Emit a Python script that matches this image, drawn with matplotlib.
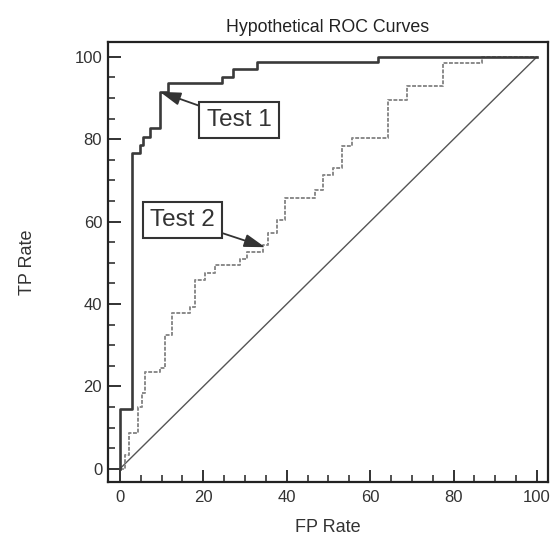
import matplotlib
matplotlib.use("Agg")
import matplotlib.pyplot as plt
from matplotlib.ticker import MultipleLocator

# Data
test1_fpr = [0, 0, 2.8, 4.8, 5.5, 7.2, 9.6, 11.5, 24.5, 27.0, 32.8, 62.0, 100]
test1_tpr = [0, 14.6, 76.7, 78.6, 80.6, 82.8, 91.5, 93.7, 95.0, 97.0, 98.8, 100, 100]

test2_fpr = [0, 1.2, 2.2, 4.3, 5.2, 6.0, 9.6, 10.8, 12.4, 16.8, 18.0, 20.4, 22.8,
             28.8, 30.4, 34.3, 35.5, 37.6, 39.6, 46.8, 48.7, 51.0, 53.2, 55.6,
             64.3, 68.8, 77.5, 86.8, 100]
test2_tpr = [0, 3.4, 8.7, 15.0, 18.4, 23.5, 24.5, 32.4, 37.8, 39.3, 45.8, 47.5, 49.5,
             51.0, 52.7, 54.4, 57.3, 60.4, 65.7, 67.6, 71.2, 73.0, 78.4, 80.4,
             89.4, 93.0, 98.6, 100, 100]

chance = [0, 100]

title = "Hypothetical ROC Curves"
xlabel = "FP Rate"
ylabel = "TP Rate"
ticks = [0, 20, 40, 60, 80, 100]
labels = ["Test 1", "Test 2"]
arrow_points = [(9.6, 91.5), (34.8, 53.8)]
label_points = [(20.8, 84.7), (7.2, 60.4)]

plt.rcParams["font.family"] = ["Liberation Sans", "DejaVu Sans"]

fig = plt.figure(figsize=(5.5, 5.37), dpi=100)
ax = fig.add_axes([0.196, 0.1024, 0.8, 0.8194])

ax.plot(chance, chance, color="#555555", lw=1.0)
ax.plot(test2_fpr, test2_tpr, drawstyle="steps-post", color="#8a8a8a", lw=1.4,
        linestyle=(0, (2.0, 0.8)))
ax.plot(test1_fpr, test1_tpr, drawstyle="steps-post", color="#3a3a3a", lw=1.9)

ax.set_xlim(-2.9, 102.6)
ax.set_ylim(-3.2, 103.6)
ax.set_xticks(ticks)
ax.set_yticks(ticks)
ax.xaxis.set_minor_locator(MultipleLocator(5))
ax.yaxis.set_minor_locator(MultipleLocator(5))
ax.tick_params(which="major", direction="in", length=9, width=1.3, labelsize=12,
               top=False, right=False, pad=6, colors="#222222", labelcolor="#333333")
ax.tick_params(which="minor", direction="in", length=5, width=1.1,
               top=False, right=False, colors="#222222")
ax.tick_params(axis="y", which="major", pad=4)
for s in ax.spines.values():
    s.set_linewidth(1.6)
    s.set_color("#222222")

ax.set_title(title, fontsize=12.8, color="#222222", pad=7)
ax.set_xlabel(xlabel, fontsize=13, labelpad=10, color="#333333")
ax.set_ylabel(ylabel, fontsize=13, labelpad=28, color="#333333")

for lab, pt, lp in zip(labels, arrow_points, label_points):
    ax.annotate(lab, xy=pt, xytext=lp, textcoords="data",
                fontsize=17.5, color="#333333",
                ha="left", va="center",
                bbox=dict(boxstyle="square,pad=0.3", fc="white", ec="#333333", lw=1.5),
                arrowprops=dict(arrowstyle="-|>,head_length=0.7,head_width=0.22",
                                color="#333333", lw=1.3,
                                mutation_scale=18, shrinkA=0, shrinkB=0))

fig.savefig("out.png", dpi=100)
